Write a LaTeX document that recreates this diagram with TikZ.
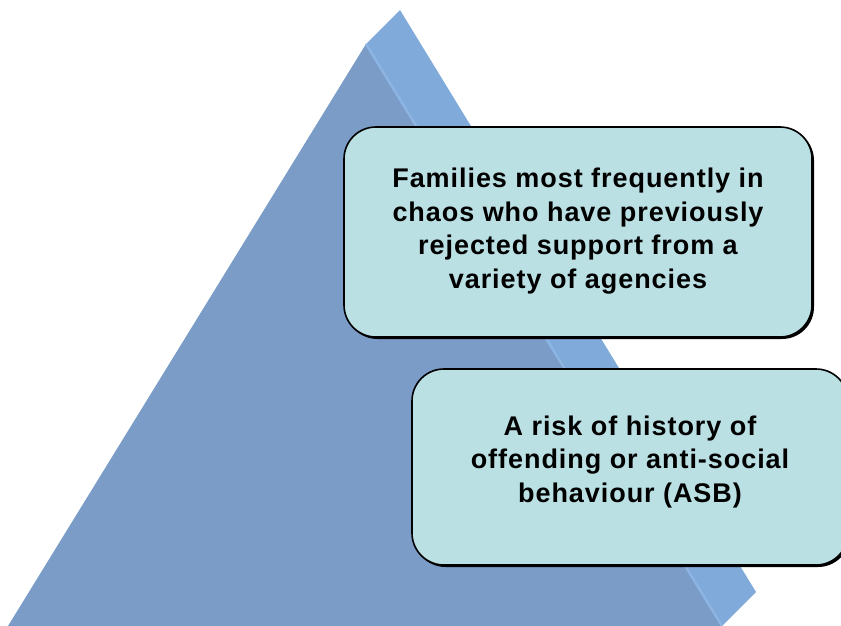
\documentclass[tikz,border=0pt]{standalone}
\usepackage{fontspec}
\setmainfont{Liberation Sans}
\newfontfamily\boxfont[LetterSpace=3.5]{Liberation Sans}
\begin{document}
\begin{tikzpicture}[x=1pt,y=-1pt,
  frontface/.style={fill=front,draw=none},
  sideface/.style={fill=side,draw=none},
  ridge/.style={draw=ridgec,line width=2.5pt},
  infobox/.style={draw=black,line width=1.6pt,fill=boxfill,rounded corners=32pt,inner sep=0pt},
  shadowbox/.style={fill=black,rounded corners=32pt,inner sep=0pt,draw=none},
  infotext/.style={align=center,font=\boxfont\bfseries\fontsize{27}{33.7}\selectfont,text=black,inner sep=0pt}]
\definecolor{front}{HTML}{7A9CC6}
\definecolor{side}{HTML}{80AADA}
\definecolor{ridgec}{HTML}{8DB5E4}
\definecolor{boxfill}{HTML}{BBE0E3}
\useasboundingbox (0,0) rectangle (841,626);
% pyramid
\coordinate (apex) at (366,44);
\coordinate (back) at (400,10);
\coordinate (sider) at (756,592);
\coordinate (baser) at (722,626);
\coordinate (basel) at (8,626);
\fill[sideface] (apex) -- (back) -- (sider) -- (baser) -- cycle;
\fill[frontface] (apex) -- (baser) -- (basel) -- cycle;
\draw[ridge] (apex) -- (baser);
% boxes
\fill[shadowbox] (345.5,128.5) rectangle (814,339);
\node[infobox,minimum width=468pt,minimum height=210pt] (b1) at (578,232) {};
\node[infotext] (t1) at (578,231) {Families most frequently in\\chaos who have previously\\rejected support from a\\variety of agencies};
\fill[shadowbox] (413.5,370.5) rectangle (850,567);
\node[infobox,minimum width=436pt,minimum height=196pt] (b2) at (630,467) {};
\node[infotext] (t2) at (630,462) {A risk of history of\\offending or anti-social\\behaviour (ASB)};
\end{tikzpicture}
\end{document}
